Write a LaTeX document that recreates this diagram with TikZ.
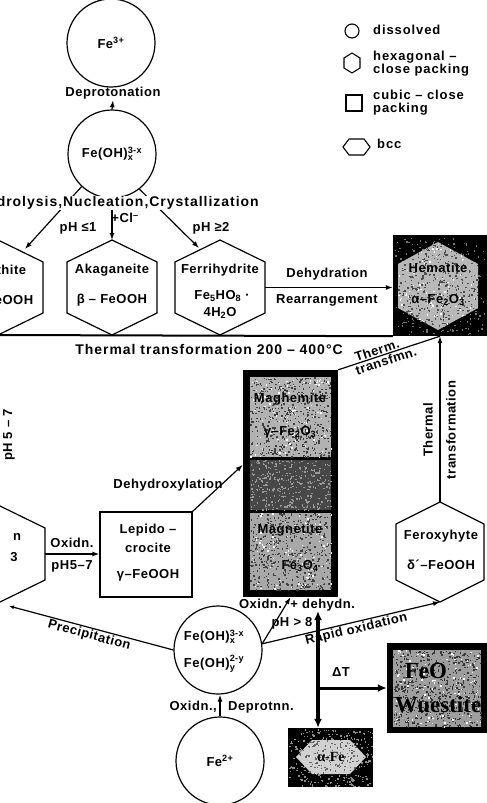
\documentclass[tikz,border=0pt]{standalone}
\usepackage{fontspec}
\usepackage{amsmath}
\setmainfont{Liberation Sans}[LetterSpace=4]
\newfontfamily\widefont{Liberation Sans}[LetterSpace=7]
\newfontfamily\oxfont{Liberation Serif}
\usetikzlibrary{arrows.meta,calc}

% chemistry scripts in the text font
\newcommand{\mysub}[1]{\ensuremath{_{\text{#1}}}}
\newcommand{\mysup}[1]{\ensuremath{^{\text{#1}}}}
\newcommand{\supsub}[2]{\ensuremath{^{\text{#1}}_{\text{#2}}}}

% pointy-topped hexagon: name, centre x, top y, bottom y, half width
\newcommand{\hexbox}[5]{%
  \coordinate (#1-t) at (#2,#3);
  \coordinate (#1-b) at (#2,#4);
  \coordinate (#1-e) at ({#2+#5},{(#3+#4)/2});
  \coordinate (#1-w) at ({#2-#5},{(#3+#4)/2});
  \draw[hexline] (#1-t) -- ++(#5,22) -- ({#2+#5},{#4-22}) -- (#1-b)
    -- ({#2-#5},{#4-22}) -- ({#2-#5},{#3+22}) -- cycle;}

% speckled texture inside a rectangle: x0, y0, width, height, count, colour
\newcommand{\grain}[6]{%
  \foreach \k in {1,...,#5}{%
    \pgfmathsetmacro{\gx}{#1+rnd*#3}%
    \pgfmathsetmacro{\gy}{#2+rnd*#4}%
    \fill[#6] (\gx,\gy) rectangle ++(1.4,1.4);}}

\begin{document}
\begin{tikzpicture}[x=1pt,y=-1pt,
  every node/.style={font=\fontsize{13}{15}\selectfont\bfseries, inner sep=1pt},
  wide/.style={font=\widefont\fontsize{14}{16}\selectfont\bfseries},
  ln/.style={line width=1.2pt},
  arr/.style={ln, -{Latex[length=7pt,width=5pt]}},
  hexline/.style={line width=1.2pt, line join=miter},
  circ/.style={circle, draw, line width=1.2pt, minimum size=88pt, inner sep=0pt},
  legend/.style={anchor=west, font=\widefont\fontsize{13}{14}\selectfont\bfseries},
  darkbox/.style={fill=black, inner sep=0pt, draw=none},
  oxlabel/.style={font=\oxfont\fontsize{23}{25}\selectfont\bfseries}]
\pgfmathsetseed{7}
\useasboundingbox (0,0) rectangle (487,803);
\clip (0,0) rectangle (487,803);
\fill[white] (0,0) rectangle (487,803);

% ---------- legend ----------
\node[circle, draw, line width=1.1pt, minimum size=14pt, inner sep=0pt] (lgc) at (352,31) {};
\node[legend] (lgct) at (372,30) {dissolved};
\coordinate (lgh) at (352,63);
\draw[line width=1.1pt] (352,53) -- (360,58) -- (360,68) -- (352,73) -- (344,68) -- (344,58) -- cycle;
\node[legend] (lght1) at (372,57) {hexagonal –};
\node[legend] (lght2) at (372,70) {close packing};
\node[draw, line width=1.1pt, minimum size=16pt, inner sep=0pt] (lgs) at (354,103) {};
\node[legend] (lgst1) at (372,95) {cubic – close};
\node[legend] (lgst2) at (372,109) {packing};
\draw[line width=1.1pt] (343,147) -- (349,139) -- (364,139) -- (370,147) -- (364,155) -- (349,155) -- cycle;
\node[legend] (lgbt) at (376,144) {bcc};

% ---------- dissolved Fe(III) ----------
\node[circ] (fe3) at (111,43) {Fe\mysup{3+}};
\node[circ] (feoh1) at (112,154) {Fe(OH)\supsub{3-x}{x}};
\node (deprot) at (113,93) {Deprotonation};
\draw[arr] (feoh1.north) -- (deprot.south);

% ---------- hexagonal oxyhydroxides ----------
\hexbox{goe}{-2}{240}{335}{45}
\hexbox{aka}{112}{240}{335}{45}
\hexbox{fer}{220}{240}{335}{45}
\coordinate (goe-in) at (25,249);
\coordinate (fer-in) at (199,248);
\draw[arr] (feoh1.-133) -- (goe-in);
\draw[arr] (feoh1.-52) -- (fer-in);
\draw[arr] (feoh1.south) -- (aka-t);
\node[wide, fill=white, anchor=east, inner ysep=0.3pt] (hyd) at (260,203) {Hydrolysis,Nucleation,Crystallization};
\node (cl) at (125,218) {+Cl\mysup{–}};
\node (ph1) at (78,228) {pH ≤1};
\node (ph2) at (211,228) {pH ≥2};

\node (goe1) at (-2,270) {Goethite};
\node (goe2) at (-2,300) {α – FeOOH};
\node (aka1) at (112,270) {Akaganeite};
\node (aka2) at (112,300) {β – FeOOH};
\node (fer1) at (220,270) {Ferrihydrite};
\node (fer2) at (222,296) {Fe\mysub{5}HO\mysub{8} ·};
\node (fer3) at (220,313) {4H\mysub{2}O};

% ---------- hematite ----------
\node[darkbox, minimum width=94pt, minimum height=101pt] (hem) at (440,285.5) {};
\grain{395}{237}{90}{97}{260}{black!55}
\fill[black!28] (438,242) -- (478,264) -- (478,308) -- (438,330) -- (398,308) -- (398,264) -- cycle;
\begin{scope}
  \clip (438,242) -- (478,264) -- (478,308) -- (438,330) -- (398,308) -- (398,264) -- cycle;
  \grain{398}{242}{80}{88}{420}{black!70}
  \grain{398}{242}{80}{88}{110}{white}
\end{scope}
\node (hem1) at (438,268) {Hematite};
\node (hem2) at (438,300) {α–Fe\mysub{2}O\mysub{3}};

\draw[arr] (fer-e) -- (hem.west |- fer-e);
\node (dehyd) at (327,274) {Dehydration};
\node (rearr) at (327,300) {Rearrangement};

% thermal transformation base line
\coordinate (tl) at (0,335);
\draw[line width=2pt] (tl) -- (hem.south west);
\node[wide] (thermtxt) at (209,349) {Thermal transformation 200 – 400°C};

% ---------- maghemite / magnetite column ----------
\node[darkbox, minimum width=95pt, minimum height=227pt] (mag) at (290.5,483.5) {};
\fill[black!30] (250,377) rectangle (331,457);
\grain{250}{377}{81}{80}{520}{black!75}
\grain{250}{377}{81}{80}{110}{white}
\fill[black!72] (250,460) rectangle (331,510);
\grain{250}{460}{81}{50}{350}{black!40}
\fill[black!34] (250,513) rectangle (331,590);
\grain{250}{513}{81}{77}{520}{black!75}
\grain{250}{513}{81}{77}{100}{white}
\node (mgh1) at (290,399) {Maghemite};
\node (mgh2) at (290,432) {γ–Fe\mysub{2}O\mysub{3}};
\node (mgt1) at (290,530) {Magnetite};
\node (mgt2) at (300,566) {Fe\mysub{3}O\mysub{4}};

\draw[ln] (mag.north east) -- (hem.south)
  node[sloped, above, pos=0.4] (tt1) {Therm.}
  node[sloped, below, pos=0.45] (tt2) {transfmn.};

% ---------- feroxyhyte ----------
\hexbox{fex}{440}{502}{602}{44}
\node (fex1) at (441,536) {Feroxyhyte};
\node (fex2) at (441,565) {δ´–FeOOH};
\draw[arr] (fex-t) -- (hem.south -| fex-t);
\node[rotate=90] (tht1) at (428,430) {Thermal};
\node[rotate=90] (tht2) at (451,430) {transformation};

% ---------- lepidocrocite and its precursor ----------
\hexbox{gr}{0}{506}{602}{45}
\node (gr1) at (17,537) {n};
\node (gr2) at (14,557) {3};
\node[rotate=90] (phl) at (9,435) {pH 5 – 7};
\node[draw, ln, minimum width=92pt, minimum height=85pt, inner sep=0pt] (lep) at (146,554.5) {};
\node (lep1) at (148,530) {Lepido –};
\node (lep2) at (148,548) {crocite};
\node (lep3) at (148,575) {γ–FeOOH};
\draw[arr] (gr-e) -- (lep.west |- gr-e);
\node (ox1) at (72,543) {Oxidn.};
\node (ox2) at (72,566) {pH5–7};
\draw[arr] (lep.north east) -- ($(mag.north west)+(0,95)$);
\node (dehx) at (168,485) {Dehydroxylation};

% ---------- dissolved Fe(II) ----------
\node[circ] (feoh2) at (218,650) {};
\node (feoh2a) at (214,637) {Fe(OH)\supsub{3-x}{x}};
\node (feoh2b) at (214,664) {Fe(OH)\supsub{2-y}{y}};
\node[circ] (fe2) at (220,761) {Fe\mysup{2+}};
\draw[arr] (fe2.north) -- (fe2.north |- feoh2.south);
\node[anchor=east] (oxd) at (218,707) {Oxidn.,};
\node[anchor=west] (dpr) at (227,707) {Deprotnn.};

\coordinate (pend) at (9,606);
\draw[ln, {Latex[length=5pt,width=4pt]}-] (pend) -- (feoh2.west)
  node[sloped, below, pos=0.5] (prec) {Precipitation};

\draw[arr] (feoh2.8) -- (mag.south);
\node (oxdh) at (297,605) {Oxidn.\ \ + dehydn.};
\node (ph8) at (292,623) {pH > 8};
\draw[arr] (feoh2.8) -- (fex-b)
  node[sloped, below, pos=0.52] (rapid) {Rapid oxidation};

% ---------- heating products ----------
\node[darkbox, minimum width=100pt, minimum height=90pt] (feo) at (437,688) {};
\fill[black!38] (393,650) rectangle (481,727);
\grain{393}{650}{88}{77}{600}{black!78}
\grain{393}{650}{88}{77}{120}{white}
\node[oxlabel] (feo1) at (426,671) {FeO};
\node[oxlabel] (feo2) at (438,705) {Wuestite};

\node[darkbox, minimum width=85pt, minimum height=59pt] (afe) at (330.5,757.5) {};
\grain{289}{729}{83}{57}{300}{black!45}
\fill[black!18] (296,757) -- (312,740) -- (350,740) -- (366,757) -- (350,774) -- (312,774) -- cycle;
\begin{scope}
  \clip (296,757) -- (312,740) -- (350,740) -- (366,757) -- (350,774) -- (312,774) -- cycle;
  \grain{296}{740}{70}{34}{160}{black!60}
\end{scope}
\node[font=\oxfont\fontsize{14}{16}\selectfont\bfseries] (afe1) at (331,757) {α-Fe};

\coordinate (dttop) at (318,611);
\coordinate (dtj) at (318,688);
\draw[line width=3.5pt, {Latex[length=9pt,width=8pt]}-{Latex[length=9pt,width=8pt]}] (dttop) -- (afe.north -| dttop);
\draw[line width=3pt, -{Latex[length=9pt,width=8pt]}] (dtj) -- (feo.west);
\node (dt) at (341,672) {ΔT};
\end{tikzpicture}
\end{document}
